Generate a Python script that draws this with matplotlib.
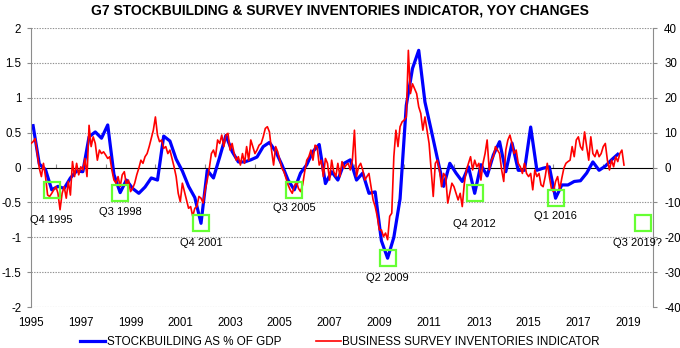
import numpy as np
import matplotlib.pyplot as plt
from matplotlib.lines import Line2D

plt.rcParams['font.family'] = ['Liberation Sans', 'DejaVu Sans']
plt.rcParams['axes.unicode_minus'] = False

# Stockbuilding as % of GDP, yoy change, quarterly from Q1 1995 (left axis)
stockbuilding = [
    0.60, 0.05, -0.03, -0.32,   # 1995
    -0.27, -0.30, -0.15, -0.05,  # 1996
    -0.06, 0.44, 0.51, 0.42,    # 1997
    0.61, -0.10, -0.36, -0.18,  # 1998
    -0.30, -0.37, -0.28, -0.15,  # 1999
    -0.18, 0.45, 0.38, 0.12,    # 2000
    -0.05, -0.27, -0.43, -0.80,  # 2001
    -0.04, -0.15, 0.15, 0.46,   # 2002
    0.23, 0.08, 0.08, 0.11,     # 2003
    0.15, 0.30, 0.36, 0.23,     # 2004
    0.04, -0.18, -0.32, -0.08,  # 2005
    0.04, 0.23, 0.33, -0.23,    # 2006
    -0.06, -0.18, 0.06, 0.11,   # 2007
    -0.18, -0.08, -0.37, -0.35,  # 2008
    -1.05, -1.30, -1.00, -0.45,  # 2009
    0.89, 1.42, 1.68, 0.94,     # 2010
    0.54, 0.13, -0.27, 0.06,    # 2011
    -0.08, -0.20, 0.01, -0.37,  # 2012
    0.04, -0.12, 0.18, 0.37,    # 2013
    -0.06, 0.35, -0.04, -0.04,  # 2014
    0.58, -0.04, -0.01, 0.01,   # 2015
    -0.44, -0.25, -0.25, -0.20,  # 2016
    -0.19, -0.08, 0.08, -0.04,  # 2017
    0.02, 0.11, 0.19,           # 2018
]

# Business survey inventories indicator, yoy change, monthly from Jan 1995 (right axis)
survey = [
    6.9, 7.4, 8.3, 4.0, -0.2, -2.6, 1.2, -2.6, -7.9, -8.3, -7.4, -6.4,        # 1995
    -5.5, -7.4, -12.1, -7.4, -5.5, -8.8, -4.0, -7.9, 1.7, -2.6, 1.2, -2.1,    # 1996
    0.2, -0.7, 2.6, -2.6, 12.1, 6.0, 8.8, 6.9, 2.1, 5.0, 4.0, 4.5,            # 1997
    3.6, 2.6, 3.1, -0.7, -3.6, -4.5, -2.6, -5.5, -2.1, -1.2, -5.0, -3.6,      # 1998
    -6.9, -6.0, -4.5, -2.1, -0.2, 2.1, 1.2, 3.1, 4.0, 6.0, 8.3, 10.7,         # 1999
    14.5, 9.3, 7.4, 7.9, 5.5, 6.0, 4.0, 5.0, 2.6, 0.2, -2.6, -7.4,            # 2000
    -9.8, -4.5, -6.9, -9.3, -11.7, -11.2, -14.0, -11.7, -11.2, -8.3, -8.8, -10.2,  # 2001
    -6.4, -3.6, -0.2, 4.0, 5.0, 3.1, 7.9, 6.9, 9.3, 6.0, 9.3, 9.8,            # 2002
    5.0, 6.9, 4.0, 2.1, 3.1, 0.7, 4.0, 1.2, 6.0, 2.1, 7.9, 6.0,               # 2003
    4.0, 5.0, 6.4, 6.9, 8.8, 11.2, 11.7, 10.2, 5.0, 0.7, 6.0, 4.5,            # 2004
    2.1, -0.2, -1.2, -3.1, -5.0, -6.4, -7.4, -5.5, -4.0, -6.0, -6.9, -5.0,    # 2005
    -1.2, 2.1, 3.1, 5.0, 2.1, 6.4, 6.0, 0.7, 2.1, -2.6, 2.6, 1.2,             # 2006
    -3.6, 2.1, -1.2, -2.6, 1.2, -2.6, 1.7, -0.2, 0.7, 1.2, -0.7, 2.1,         # 2007
    10.7, -2.6, 0.2, 1.2, -0.7, -3.6, -2.6, -1.7, -5.5, -9.3, -11.2, -14.0,   # 2008
    -17.9, -17.9, -19.8, -18.8, -20.7, -14.0, -13.1, 3.1, 10.7, 6.0, 11.7, 13.1,  # 2009
    13.6, 14.5, 33.6, 21.2, 24.0, 22.6, 21.2, 17.4, 15.5, 10.7, 14.5, 10.7,   # 2010
    6.9, -0.7, -8.3, 1.2, 2.1, -0.7, -5.5, -1.7, -2.6, -10.2, -7.4, -4.5,     # 2011
    -5.5, -7.4, -9.3, -7.4, -11.2, -4.5, -0.7, 1.2, 3.1, -0.7, 2.1, 0.2,      # 2012
    1.2, -3.6, 1.2, 4.0, 7.9, -0.7, 2.1, 3.1, 6.0, 5.0, 4.0, -0.7,            # 2013
    -4.0, 5.0, 7.9, 9.3, 6.9, 4.0, 5.0, 1.2, 0.2, -1.7, 1.2, -1.7,            # 2014
    -2.6, -1.7, -6.4, -0.7, -2.6, -1.7, -5.0, -5.5, -2.6, 1.2, -2.6, -6.0,    # 2015
    -6.9, -4.0, -2.6, -6.4, -3.1, -0.2, 1.2, 1.7, 2.1, 6.0, 3.1, 7.9,         # 2016
    8.8, 6.0, 5.0, 10.2, 6.0, 2.1, 8.8, 4.0, 3.1, 5.0, 3.1, 4.0,              # 2017
    6.0, 6.9, 2.1, -0.7, 2.1, 0.2, 3.1, 1.7, 4.0, 5.0, 0.7,                   # 2018
]

# marked troughs and the guessed next one
troughs = ['Q4 1995', 'Q3 1998', 'Q4 2001', 'Q3 2005', 'Q2 2009', 'Q4 2012', 'Q1 2016']
next_trough = 'Q3 2019?'
next_trough_value = -0.8

year_labels = [str(y) for y in range(1995, 2020, 2)]
series_names = ['STOCKBUILDING AS % OF GDP', 'BUSINESS SURVEY INVENTORIES INDICATOR']
title = 'G7 STOCKBUILDING & SURVEY INVENTORIES INDICATOR, YOY CHANGES'

grey = '#8c8c8c'
green = '#66ff33'

# x in decimal years: monthly from Jan 1995, quarterly points at mid-quarter month
x_survey = 1995 + np.arange(len(survey)) / 12
x_stock = 1995 + (1 + 3 * np.arange(len(stockbuilding))) / 12


def quarter_pos(label):
    q, yr = label.rstrip('?').split()
    i = (int(yr) - 1995) * 4 + int(q[1]) - 1
    return i, 1995 + (1 + 3 * i) / 12


fig = plt.figure(figsize=(6.8, 3.48), dpi=100)
ax = fig.add_axes([0.0456, 0.1178, 0.9147, 0.8017])
ax2 = ax.twinx()

ax.set_xlim(1995, 2020)
ax.set_ylim(-2, 2)
ax2.set_ylim(-40, 40)

# dotted gridlines
for y in np.arange(-2, 2.01, 0.5):
    if y != 0:
        ax.axhline(y, color='#909090', lw=0.8, ls=(0, (1.2, 1.2)), zorder=0)

ax.plot(x_stock, stockbuilding, color='#0000ff', lw=2.3, solid_joinstyle='round')
ax2.plot(x_survey, survey, color='#ff0000', lw=1.2)

# zero line with tick marks every other year
zero_axis = ax.secondary_xaxis(0.5)
zero_axis.set_xticks(range(1996, 2021, 2))
zero_axis.set_xticklabels([])
zero_axis.tick_params(direction='out', length=3, color=grey, width=0.8)
zero_axis.spines['bottom'].set_color(grey)

ax.set_xticks(range(1995, 2020, 2))
ax.set_xticklabels(year_labels)
ax.tick_params(axis='x', length=0, pad=7, labelsize=8.3)

ax.set_yticks(np.arange(-2, 2.01, 0.5))
ax.set_yticklabels(['%g' % v for v in np.arange(-2, 2.01, 0.5)])
ax.tick_params(axis='y', direction='out', length=3, color=grey, pad=4, labelsize=8.3)
ax2.set_yticks(range(-40, 41, 10))
ax2.tick_params(axis='y', direction='out', length=3, color=grey, pad=5, labelsize=8.3)

for a in (ax, ax2):
    for side in ('top', 'bottom'):
        a.spines[side].set_visible(False)
ax.spines['right'].set_visible(False)
ax2.spines['left'].set_visible(False)
ax.spines['left'].set_color(grey)
ax2.spines['right'].set_color(grey)

# green squares with quarter labels
offsets = [(0, 22), (0, 14), (0, 14), (0, 13), (0, 14), (0, 22), (0, 13), (-4, 14)]
for lab, (dx, dy) in zip(troughs + [next_trough], offsets):
    i, xq = quarter_pos(lab)
    yq = stockbuilding[i] if i < len(stockbuilding) else next_trough_value
    ax2.plot(xq, yq * 20, marker='s', ms=11, mfc='none', mec=green, mew=1.6,
             clip_on=False, zorder=5)
    ax2.annotate(lab, (xq, yq * 20), xytext=(dx, -dy), textcoords='offset points',
                 ha='center', va='center', fontsize=8, annotation_clip=False)

fig.text(0.5, 0.971, title, ha='center', va='center', fontsize=10, weight='bold')

handles = [Line2D([], [], color='#0000ff', lw=2.3), Line2D([], [], color='#ff0000', lw=1.2)]
fig.legend(handles, series_names, loc='center', bbox_to_anchor=(0.5, 0.016), ncol=2,
           frameon=False, fontsize=8.4, handlelength=2.15, handletextpad=0.1,
           columnspacing=3.0)

fig.savefig('out.png', dpi=100)
